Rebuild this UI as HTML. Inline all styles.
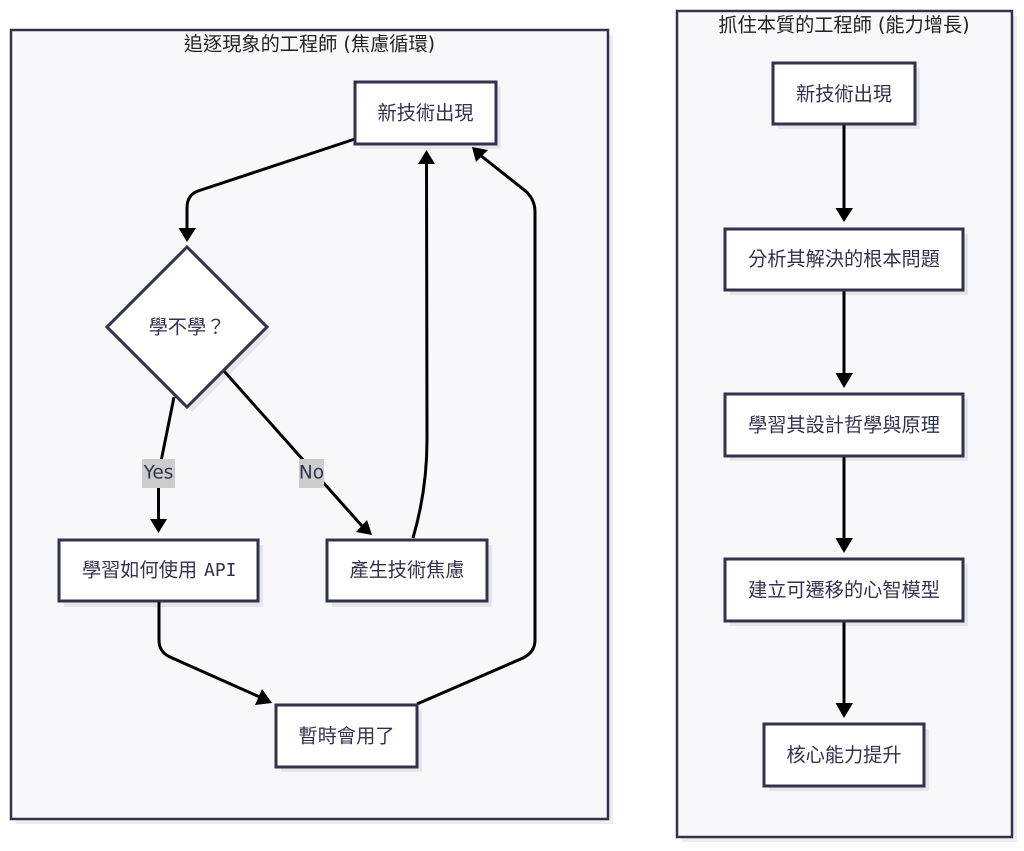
<!DOCTYPE html>
<html><head><meta charset="utf-8"><style>
html,body{margin:0;padding:0;background:#fff}
svg{display:block}
text{font-family:"DejaVu Sans","Noto Sans CJK TC",sans-serif}
.n{font-size:19.2px;fill:#32324f;text-anchor:middle;dominant-baseline:central}
.t{font-size:19.2px;fill:#222;text-anchor:middle;dominant-baseline:central}
.l{font-size:18.5px;fill:#32324f;text-anchor:middle;dominant-baseline:central}
.m{font-family:"DejaVu Sans Mono",monospace;font-size:18px}
.e{fill:none;stroke:#000;stroke-width:3}
.b{fill:#fff;stroke:#32324f;stroke-width:3}
.c{fill:#f8f8fb;stroke:#32324f;stroke-width:2.5}
.s{fill:#000;fill-opacity:.07}
.a{fill:#000}
</style></head><body>
<svg width="1024" height="851" viewBox="0 0 1024 851" xmlns="http://www.w3.org/2000/svg">
<rect class="s" x="16" y="35" width="597" height="789"/>
<rect class="c" x="11" y="30" width="597" height="789"/>
<rect class="s" x="682" y="16" width="335" height="826"/>
<rect class="c" x="677" y="11" width="335" height="826"/>
<text class="t" x="309.500" y="44">追逐現象的工程師 (焦慮循環)</text>
<text class="t" x="844" y="25">抓住本質的工程師 (能力增長)</text>

<path class="e" d="M355 139 L198 191 Q187 195 187 208 L187 230"/>
<polygon class="a" points="178.500,228 196,228 187,242"/>
<path class="e" d="M174 397 L161.500 459 L158.500 480 L158.500 522"/>
<polygon class="a" points="150,519 167,519 158.500,533"/>
<path class="e" d="M224 371 L362 526"/>
<polygon class="a" points="356,532 367,520 372,535"/>
<path class="e" d="M413 538 Q427 490 427 440 L426.500 160"/>
<polygon class="a" points="418,164 435,164 426.500,150"/>
<path class="e" d="M159 601 L159 640 Q159 652 170 657 L262 698"/>
<polygon class="a" points="255,705 262,689 272,703"/>
<path class="e" d="M417 704 L523 658 Q535 652 535 640 L535 212 Q535 198 523 189 L480 155"/>
<polygon class="a" points="472,147 476,162 488,150"/>

<path class="e" d="M844 124 L844 210"/>
<polygon class="a" points="835.500,208 853,208 844,222"/>
<path class="e" d="M844 290 L844 375"/>
<polygon class="a" points="835.500,373 853,373 844,388"/>
<path class="e" d="M844 456 L844 540"/>
<polygon class="a" points="835.500,538 853,538 844,553"/>
<path class="e" d="M844 621 L844 705"/>
<polygon class="a" points="835.500,703 853,703 844,718"/>

<g>
<rect class="s" x="360" y="87" width="141" height="62"/>
<rect class="b" x="355" y="82" width="141" height="62"/>
<text class="n" x="425.500" y="113">新技術出現</text>
<polygon class="s" points="187,252 272,332 192,412 112,332"/>
<polygon class="b" points="187,247 267,327 187,407 107,327"/>
<text class="n" x="187" y="327">學不學？</text>
<rect class="s" x="64" y="545" width="199" height="62"/>
<rect class="b" x="59" y="540" width="199" height="61"/>
<text class="n" style="text-anchor:start" x="82" y="570">學習如何使用<tspan class="m" x="204">API</tspan></text>
<rect class="s" x="332" y="545" width="160" height="62"/>
<rect class="b" x="327" y="540" width="160" height="61"/>
<text class="n" x="407" y="570">產生技術焦慮</text>
<rect class="s" x="281" y="710" width="141" height="62"/>
<rect class="b" x="276" y="705" width="141" height="62"/>
<text class="n" x="346.500" y="736">暫時會用了</text>

<rect class="s" x="778" y="68" width="142" height="61"/>
<rect class="b" x="773" y="63" width="142" height="61"/>
<text class="n" x="844" y="94">新技術出現</text>
<rect class="s" x="730" y="234" width="238" height="61"/>
<rect class="b" x="725" y="229" width="238" height="61"/>
<text class="n" x="844" y="259">分析其解決的根本問題</text>
<rect class="s" x="730" y="399" width="238" height="62"/>
<rect class="b" x="725" y="394" width="238" height="62"/>
<text class="n" x="844" y="425">學習其設計哲學與原理</text>
<rect class="s" x="730" y="564" width="238" height="62"/>
<rect class="b" x="725" y="559" width="238" height="62"/>
<text class="n" x="844" y="590">建立可遷移的心智模型</text>
<rect class="s" x="769" y="729" width="160" height="62"/>
<rect class="b" x="764" y="724" width="160" height="62"/>
<text class="n" x="844" y="755">核心能力提升</text>
</g>

<rect x="142" y="459" width="33" height="29" fill="#cccccc"/>
<text class="l" x="158.500" y="473">Yes</text>
<rect x="299" y="459" width="25" height="29" fill="#cccccc"/>
<text class="l" x="311.500" y="473">No</text>
</svg>
</body></html>
